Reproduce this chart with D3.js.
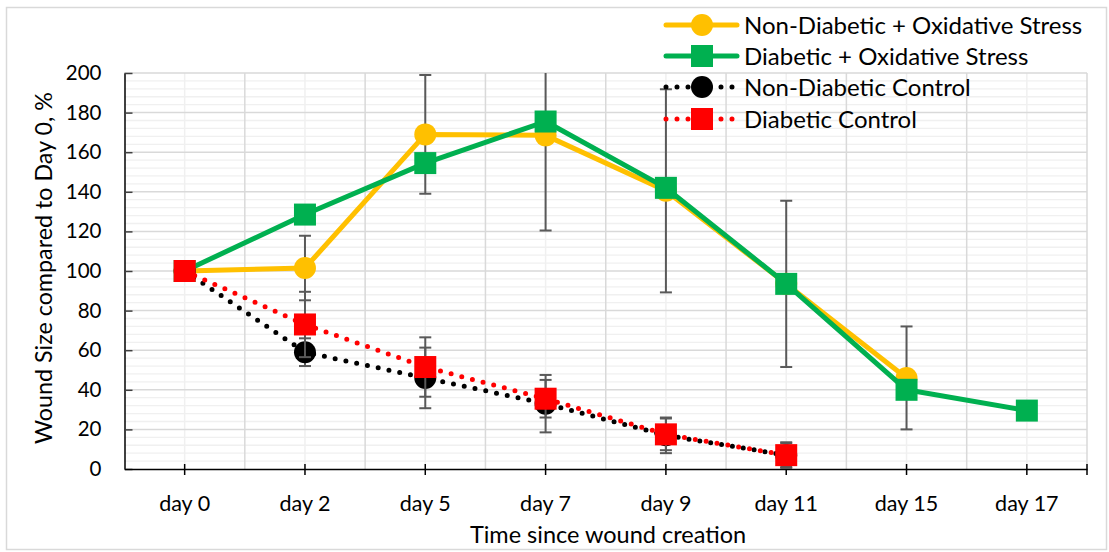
<!DOCTYPE html>
<html><head><meta charset="utf-8">
<script src="https://cdn.jsdelivr.net/npm/d3@7"></script>
<style>body{margin:0;background:#fff}svg{display:block}text{font-family:Lato,"Open Sans",sans-serif;fill:#000}</style>
</head><body><svg id="c" width="1109" height="552"></svg>
<script>
const categories = ["day 0","day 2","day 5","day 7","day 9","day 11","day 15","day 17"];
const yTicks = [0,20,40,60,80,100,120,140,160,180,200];
const seriesNames = ["Non-Diabetic + Oxidative Stress","Diabetic + Oxidative Stress","Non-Diabetic Control","Diabetic Control"];
const nonDiabeticOS = [100,101.5,169,168.5,140.5,93.5,46,null];
const nonDiabeticOSErr = [null,16.3,30,48,51.3,42,26,null];
const diabeticOS = [100,128.5,154.5,175.5,142,93.5,40,29.5];
const diabeticOSErr = [null,null,null,null,null,null,null,null];
const nonDiabeticCtrl = [100,59,46,33,17,7,null,null];
const nonDiabeticCtrlErr = [null,7,15.3,14.5,9,6.5,null,null];
const diabeticCtrl = [100,73,51.5,35.5,17.5,7,null,null];
const diabeticCtrlErr = [null,16.5,15,9.5,8,6,null,null];

const svg = d3.select("#c");
const W=1109,H=552;
const L=124.5,R=1087,T=73,B=469;
svg.append("rect").attr("width",W).attr("height",H).attr("fill","#fff");
svg.append("rect").attr("x",6.5).attr("y",7.5).attr("width",1100).attr("height",542).attr("fill","none").attr("stroke","#d9d9d9").attr("stroke-width",1.5);

const x = d3.scaleBand().domain(categories).range([L,R]).padding(0);
const cx = c => x(c)+x.bandwidth()/2;
const y = d3.scaleLinear().domain([0,200]).range([B,T]);

const grid = svg.append("g");
grid.selectAll("line.mh").data(d3.range(4,200,4).filter(v=>v%20!==0)).join("line")
 .attr("x1",L).attr("x2",R).attr("y1",d=>y(d)).attr("y2",d=>y(d)).attr("stroke","#f0f0f0").attr("stroke-width",1.3);
grid.selectAll("line.vc").data(categories).join("line")
 .attr("x1",d=>cx(d)).attr("x2",d=>cx(d)).attr("y1",T).attr("y2",B).attr("stroke","#f0f0f0").attr("stroke-width",1.5);
grid.selectAll("line.h").data(yTicks.slice(1)).join("line")
 .attr("x1",L).attr("x2",R).attr("y1",d=>y(d)).attr("y2",d=>y(d)).attr("stroke","#d9d9d9").attr("stroke-width",1.5);
grid.selectAll("line.vb").data(categories.slice(1).concat(["end"])).join("line")
 .attr("x1",(d,i)=>L+(i+1)*x.bandwidth()).attr("x2",(d,i)=>L+(i+1)*x.bandwidth()).attr("y1",T).attr("y2",B).attr("stroke","#d9d9d9").attr("stroke-width",1.5);

const yAx = svg.append("g").attr("transform",`translate(${L},0)`)
 .call(d3.axisLeft(y).tickValues(yTicks).tickSizeInner(-8).tickSizeOuter(0).tickPadding(23));
yAx.select(".domain").attr("stroke","#000").attr("stroke-width",1.5);
yAx.selectAll(".tick line").attr("stroke","#404040").attr("stroke-width",1.5);
yAx.selectAll("text").attr("font-size","20.5px").attr("font-family","Lato");

const xAx = svg.append("g").attr("transform",`translate(0,${B})`)
 .call(d3.axisBottom(x).tickSize(0).tickPadding(27));
xAx.select(".domain").attr("stroke","#000").attr("stroke-width",1.5);
xAx.selectAll("text").attr("font-size","21.5px").attr("font-family","Lato");
xAx.selectAll(".tick").append("line").attr("y1",-5).attr("y2",6).attr("stroke","#000").attr("stroke-width",1.5);
xAx.append("line").attr("x1",R).attr("x2",R).attr("y1",-5).attr("y2",6).attr("stroke","#000").attr("stroke-width",1.5);

svg.append("text").attr("x",608).attr("y",543).attr("text-anchor","middle").attr("font-size","23.5px").text("Time since wound creation");
svg.append("text").attr("transform","translate(52,268) rotate(-90)").attr("text-anchor","middle").attr("font-size","23.3px").text("Wound Size compared to Day 0, %");

svg.append("clipPath").attr("id","plot").append("rect").attr("x",L).attr("y",T).attr("width",R-L).attr("height",B-T);

const series = [
 {name:seriesNames[0],vals:nonDiabeticOS,err:nonDiabeticOSErr,color:"#FFC000",shape:"circle",dotted:false},
 {name:seriesNames[1],vals:diabeticOS,err:diabeticOSErr,color:"#00B050",shape:"square",dotted:false},
 {name:seriesNames[2],vals:nonDiabeticCtrl,err:nonDiabeticCtrlErr,color:"#000000",shape:"circle",dotted:true},
 {name:seriesNames[3],vals:diabeticCtrl,err:diabeticCtrlErr,color:"#FF0000",shape:"square",dotted:true}
];
const MS=22;
function marker(g,s,px,py){
  if(s.shape==="circle") g.append("circle").attr("cx",px).attr("cy",py).attr("r",MS/2).attr("fill",s.color);
  else g.append("rect").attr("x",px-MS/2).attr("y",py-MS/2).attr("width",MS).attr("height",MS).attr("fill",s.color);
}
const line = d3.line().defined(d=>d.v!=null).x(d=>cx(d.c)).y(d=>y(d.v));
series.forEach(s=>{
  const pts = categories.map((c,i)=>({c,v:s.vals[i],e:s.err[i]}));
  const g = svg.append("g");
  g.append("path").datum(pts).attr("d",line).attr("fill","none").attr("stroke",s.color)
   .attr("stroke-width",5).attr("stroke-linecap","round").attr("stroke-linejoin","round")
   .attr("stroke-dasharray",s.dotted?"0 11":null);
  const eg = g.append("g").attr("clip-path","url(#plot)");
  pts.filter(d=>d.v!=null&&d.e!=null).forEach(d=>{
    const X=cx(d.c);
    eg.append("line").attr("x1",X).attr("x2",X).attr("y1",y(d.v+d.e)).attr("y2",y(d.v-d.e)).attr("stroke","#595959").attr("stroke-width",2);
    [d.v+d.e,d.v-d.e].forEach(v=>eg.append("line").attr("x1",X-6).attr("x2",X+6).attr("y1",y(v)).attr("y2",y(v)).attr("stroke","#595959").attr("stroke-width",2));
  });
  pts.filter(d=>d.v!=null).forEach(d=>marker(g,s,cx(d.c),y(d.v)));
});

const lg = svg.append("g");
const rowsY=[25,56,87,119];
series.forEach((s,i)=>{
  const ry=rowsY[i];
  lg.append("line").attr("x1",666).attr("x2",737).attr("y1",ry).attr("y2",ry).attr("stroke",s.color)
   .attr("stroke-width",5).attr("stroke-linecap","round").attr("stroke-dasharray",s.dotted?"0 11":null);
  marker(lg,s,702,ry);
  lg.append("text").attr("x",744).attr("y",ry).attr("dy","0.36em").attr("font-size","24px").text(s.name);
});
</script></body></html>
